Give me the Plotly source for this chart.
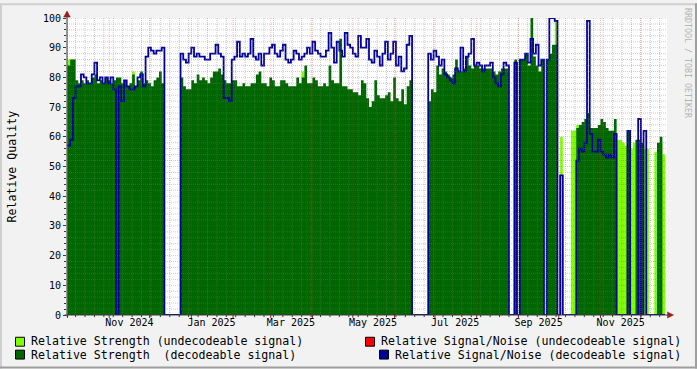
import pandas as pd
import plotly.graph_objects as go

# ---------------- data (2-day consolidation) ----------------
dates = pd.date_range("2024-10-01", periods=223, freq="2D")

strength_decodeable = [
    84, 86, 86, 79, 78, 79, 78, 79, 78, 80,
    81, 78, 79, 78, 80, 79, 78, 79, 80, 80,
    78, 79, 77, 78, 81, 77, 79, 82, 78, 79,
    78, 77, 79, 80, 82, 78, 0, 0, 0, 0,
    0, 0, 80, 77, 76, 76, 79, 78, 81, 79,
    80, 79, 78, 80, 82, 82, 83, 81, 79, 78,
    78, 79, 79, 77, 77, 78, 77, 77, 78, 78,
    81, 82, 78, 78, 77, 80, 79, 77, 77, 79,
    79, 78, 77, 77, 77, 80, 78, 80, 84, 78,
    78, 80, 79, 77, 77, 78, 77, 84, 79, 78,
    78, 93, 77, 77, 76, 76, 75, 75, 74, 79,
    78, 73, 70, 72, 79, 74, 73, 73, 74, 75,
    72, 80, 73, 72, 76, 71, 77, 79, 0, 0,
    0, 0, 0, 0, 72, 76, 75, 84, 81, 83,
    82, 81, 80, 81, 86, 82, 82, 83, 87, 84,
    83, 84, 84, 83, 83, 83, 83, 83, 82, 81,
    82, 83, 83, 83, 0, 0, 86, 0, 86, 86,
    88, 84, 100, 87, 84, 82, 86, 0, 86, 88,
    91, 91, 0, 0, 0, 0, 0, 0, 0, 63,
    64, 65, 66, 68, 63, 63, 63, 64, 66, 65,
    63, 62, 62, 66, 0, 0, 0, 0, 62, 0,
    0, 59, 59, 58, 0, 0, 0, 0, 0, 58,
    60, 0, 0,
]

strength_undecodeable = [
    86, 86, 86, 0, 0, 0, 0, 0, 0, 0,
    0, 0, 0, 0, 0, 0, 0, 0, 0, 0,
    0, 0, 0, 0, 82, 0, 0, 0, 0, 0,
    0, 0, 0, 0, 0, 0, 0, 0, 0, 0,
    0, 0, 0, 0, 0, 0, 0, 0, 0, 0,
    0, 0, 0, 0, 0, 0, 0, 0, 0, 0,
    0, 0, 0, 0, 0, 0, 0, 0, 0, 0,
    0, 0, 0, 0, 0, 0, 0, 0, 0, 0,
    0, 0, 0, 0, 0, 0, 0, 82, 0, 0,
    0, 0, 0, 0, 0, 0, 0, 0, 0, 0,
    0, 0, 0, 0, 0, 0, 0, 0, 0, 0,
    0, 0, 0, 0, 0, 0, 0, 0, 0, 0,
    0, 0, 0, 0, 0, 0, 0, 0, 0, 0,
    0, 0, 0, 0, 0, 0, 0, 0, 0, 0,
    0, 0, 0, 0, 0, 0, 0, 0, 0, 0,
    0, 0, 0, 0, 0, 0, 0, 0, 0, 0,
    0, 0, 0, 0, 0, 0, 0, 0, 0, 0,
    0, 0, 0, 0, 0, 0, 0, 0, 0, 0,
    0, 99, 0, 60, 0, 0, 0, 62, 62, 64,
    0, 0, 0, 0, 0, 0, 0, 0, 0, 0,
    0, 0, 0, 0, 59, 59, 58, 57, 57, 56,
    58, 59, 59, 58, 56, 56, 0, 0, 55, 57,
    58, 54, 54,
]

snr_decodeable = [
    57, 59, 73, 77, 77, 81, 80, 78, 78, 81,
    85, 79, 80, 78, 80, 78, 80, 76, 0, 77,
    72, 79, 77, 76, 76, 77, 80, 81, 77, 87,
    90, 89, 88, 89, 89, 90, 0, 0, 0, 0,
    0, 0, 88, 86, 85, 88, 90, 87, 88, 87,
    87, 86, 86, 88, 88, 91, 88, 87, 73, 73,
    72, 86, 87, 92, 87, 88, 87, 88, 93, 87,
    86, 88, 84, 88, 88, 90, 91, 88, 87, 89,
    91, 86, 85, 86, 89, 88, 86, 87, 88, 90,
    88, 92, 89, 88, 87, 87, 89, 95, 90, 85,
    92, 89, 87, 95, 91, 90, 88, 87, 94, 90,
    90, 93, 86, 85, 89, 87, 84, 88, 92, 86,
    88, 92, 84, 87, 82, 83, 91, 94, 0, 0,
    0, 0, 0, 0, 88, 86, 89, 87, 84, 86,
    81, 80, 79, 78, 83, 82, 90, 82, 87, 88,
    93, 84, 85, 84, 82, 84, 84, 85, 80, 78,
    77, 81, 85, 84, 0, 0, 85, 0, 86, 86,
    88, 85, 93, 88, 91, 84, 86, 0, 86, 100,
    100, 99, 0, 47, 0, 0, 0, 0, 0, 52,
    56, 55, 58, 99, 61, 55, 55, 59, 55, 54,
    53, 54, 53, 61, 0, 0, 0, 0, 62, 0,
    0, 0, 66, 0, 62, 0, 0, 0, 0, 0,
    0, 0, 0,
]

snr_undecodeable = []  # no undecodeable signal/noise values in this period

label_dates = ["2024-11-16", "2025-01-16", "2025-03-16", "2025-05-16",
               "2025-07-16", "2025-09-16", "2025-11-16"]
label_text = ["Nov 2024", "Jan 2025", "Mar 2025", "May 2025",
              "Jul 2025", "Sep 2025", "Nov 2025"]

x_range = ["2024-09-30 15:00", "2025-12-20 10:00"]

# ---------------- styles ----------------
FONT = "DejaVu Sans Mono"
C_LIGHT = "#80FF00"
C_DARK = "#006600"
C_RED = "#FF0000"
C_BLUE = "#000099"
MINOR = "rgba(120,120,120,0.40)"
MAJOR = "rgba(205,50,50,0.32)"
ARROW = "#961E1E"
AXIS = "#3A3A3A"

fig = go.Figure()
fig.add_trace(go.Scatter(x=dates, y=strength_undecodeable, mode="lines",
                         line=dict(shape="hv", width=0, color=C_LIGHT),
                         fill="tozeroy", fillcolor=C_LIGHT, hoverinfo="skip"))
fig.add_trace(go.Scatter(x=dates, y=strength_decodeable, mode="lines",
                         line=dict(shape="hv", width=0, color=C_DARK),
                         fill="tozeroy", fillcolor=C_DARK, hoverinfo="skip"))
fig.add_trace(go.Scatter(x=dates, y=snr_decodeable, mode="lines",
                         line=dict(shape="hv", width=1.8, color=C_BLUE),
                         hoverinfo="skip"))

shapes = []
# grid drawn above the data (as rrdtool does)
for v in range(2, 101, 2):
    shapes.append(dict(type="line", xref="paper", yref="y", x0=0, x1=1, y0=v, y1=v,
                       line=dict(color=MAJOR if v % 10 == 0 else MINOR, width=1, dash="1px,1px"),
                       layer="above"))
month_starts = pd.date_range("2024-10-01", "2025-12-01", freq="MS")
for d in pd.date_range("2024-10-07", "2025-12-20", freq="7D"):
    shapes.append(dict(type="line", xref="x", yref="paper", x0=d, x1=d, y0=0, y1=1,
                       line=dict(color=MINOR, width=1, dash="1px,1px"), layer="above"))
    shapes.append(dict(type="line", xref="x", yref="paper", x0=d, x1=d, y0=0, y1=-0.007,
                       line=dict(color=AXIS, width=1), layer="above"))
for d in month_starts:
    shapes.append(dict(type="line", xref="x", yref="paper", x0=d, x1=d, y0=0, y1=1,
                       line=dict(color=MAJOR, width=1, dash="1px,1px"), layer="above"))
    shapes.append(dict(type="line", xref="x", yref="paper", x0=d, x1=d, y0=0, y1=-0.01,
                       line=dict(color=ARROW, width=1), layer="above"))

# axes with arrows
shapes.append(dict(type="line", xref="paper", yref="paper", x0=-0.004, x1=1.009, y0=0, y1=0,
                   line=dict(color=AXIS, width=1), layer="above"))
shapes.append(dict(type="line", xref="paper", yref="paper", x0=0, x1=0, y0=-0.005, y1=1.02,
                   line=dict(color=AXIS, width=1), layer="above"))
shapes.append(dict(type="path", xref="paper", yref="paper",
                   path="M 0 1.0233 L -0.0055 1.003 L 0.0055 1.003 Z",
                   fillcolor=ARROW, line=dict(color=ARROW, width=0.5), layer="above"))
shapes.append(dict(type="path", xref="paper", yref="paper",
                   path="M 1.0108 0 L 1.0008 0.0105 L 1.0008 -0.0105 Z",
                   fillcolor=ARROW, line=dict(color=ARROW, width=0.5), layer="above"))

# 3D frame
shapes += [
    dict(type="rect", xref="paper", yref="paper", x0=-0.11167, x1=1.05, y0=1.0433, y1=1.05,
         fillcolor="#CFCFCF", line=dict(width=0)),
    dict(type="rect", xref="paper", yref="paper", x0=-0.11167, x1=-0.10833, y0=-0.18, y1=1.05,
         fillcolor="#CFCFCF", line=dict(width=0)),
    dict(type="rect", xref="paper", yref="paper", x0=-0.11167, x1=1.05, y0=-0.18, y1=-0.1733,
         fillcolor="#9E9E9E", line=dict(width=0)),
    dict(type="rect", xref="paper", yref="paper", x0=1.04667, x1=1.05, y0=-0.18, y1=1.05,
         fillcolor="#9E9E9E", line=dict(width=0)),
]

# legend boxes (pixel -> paper: x=(px-67)/600, y=(315-py)/300)
def px_rect(x0, x1, y0, y1, color):
    return dict(type="rect", xref="paper", yref="paper",
                x0=(x0 - 67) / 600, x1=(x1 - 67) / 600,
                y0=(315 - y1) / 300, y1=(315 - y0) / 300,
                fillcolor=color, line=dict(color="black", width=1))

shapes += [
    px_rect(15.5, 24.5, 337.5, 346.5, C_LIGHT),
    px_rect(15.5, 24.5, 350.5, 359.5, C_DARK),
    px_rect(365.5, 374.5, 337.5, 346.5, C_RED),
    px_rect(379.5, 388.5, 350.5, 359.5, C_BLUE),
]

LEG = dict(family=FONT, size=11.6, color="black")
annotations = [
    dict(text="Relative Strength (undecodeable signal)", x=(29 - 67) / 600, y=(315 - 341.5) / 300,
         xref="paper", yref="paper", xanchor="left", yanchor="middle", showarrow=False, font=LEG),
    dict(text="Relative Strength \u00a0(decodeable signal)", x=(29 - 67) / 600, y=(315 - 355) / 300,
         xref="paper", yref="paper", xanchor="left", yanchor="middle", showarrow=False, font=LEG),
    dict(text="Relative Signal/Noise (undecodeable signal)", x=(379 - 67) / 600, y=(315 - 341.5) / 300,
         xref="paper", yref="paper", xanchor="left", yanchor="middle", showarrow=False, font=LEG),
    dict(text="Relative Signal/Noise (decodeable signal)", x=(393 - 67) / 600, y=(315 - 355) / 300,
         xref="paper", yref="paper", xanchor="left", yanchor="middle", showarrow=False, font=LEG),
    dict(text="Relative Quality", x=(11 - 67) / 600, y=0.5, xref="paper", yref="paper",
         xanchor="center", yanchor="middle", textangle=-90, showarrow=False, font=LEG),
    dict(text="RRDTOOL / TOBI OETIKER", x=(688.5 - 67) / 600, y=(315 - 60) / 300,
         xref="paper", yref="paper", xanchor="center", yanchor="middle", textangle=90,
         showarrow=False, font=dict(family=FONT, size=8.3, color="#B4B4B4")),
]

fig.update_layout(
    width=697, height=369,
    margin=dict(l=67, r=30, t=15, b=54, pad=0),
    paper_bgcolor="#F2F2F2", plot_bgcolor="#FFFFFF",
    showlegend=False,
    shapes=shapes, annotations=annotations,
    xaxis=dict(type="date", range=x_range, tickmode="array", tickvals=label_dates,
               ticktext=label_text, showgrid=False, zeroline=False, showline=False,
               ticks="", tickfont=dict(family=FONT, size=10, color="black"), fixedrange=True),
    yaxis=dict(range=[0, 100], tickmode="array", tickvals=list(range(0, 101, 10)),
               showgrid=False, zeroline=False, showline=False, ticks="outside", ticklen=3,
               tickcolor=AXIS, tickfont=dict(family=FONT, size=10, color="black"),
               minor=dict(ticks="outside", ticklen=2, dtick=2, tickcolor=AXIS, showgrid=False),
               fixedrange=True),
)

fig.write_html(
    "out.html",
    config={"displayModeBar": False, "staticPlot": True},
    post_script="document.body.style.margin='0';document.body.style.padding='0';"
                "document.body.style.overflow='hidden';",
)
